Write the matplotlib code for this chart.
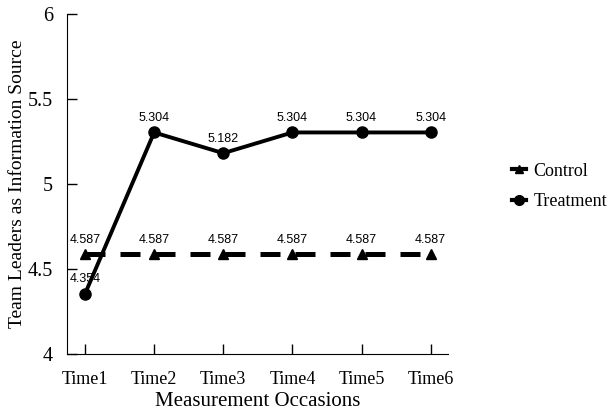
import matplotlib.pyplot as plt
from matplotlib.lines import Line2D

times = ["Time1", "Time2", "Time3", "Time4", "Time5", "Time6"]
control = [4.587, 4.587, 4.587, 4.587, 4.587, 4.587]
treatment = [4.354, 5.304, 5.182, 5.304, 5.304, 5.304]

x = list(range(1, len(times) + 1))

fig = plt.figure(figsize=(6.12, 4.17), dpi=100)
ax = fig.add_axes([0.1095, 0.151, 0.6225, 0.815])

ax.plot(x, control, color="black", linewidth=3.6, linestyle=(0, (4, 3)),
        marker="^", markersize=7, label="Control")
ax.plot(x, treatment, color="black", linewidth=2.8, marker="o",
        markersize=8, label="Treatment")

# value labels
for xi, v in zip(x, control):
    ax.text(xi, v + 0.05, "%.3f" % v, ha="center", va="bottom",
            fontsize=9, family="Liberation Sans")
for xi, v in zip(x, treatment):
    ax.text(xi, v + 0.05, "%.3f" % v, ha="center", va="bottom",
            fontsize=9, family="Liberation Sans")

ax.set_xlim(0.74, 6.25)
ax.set_ylim(4, 6)
ax.set_xticks(x)
ax.set_xticklabels(times)
ax.set_yticks([4, 4.5, 5, 5.5, 6])
ax.set_yticklabels(["4", "4.5", "5", "5.5", "6"])
ax.tick_params(direction="in", length=7, width=1)
ax.tick_params(axis="x", pad=12)
ax.tick_params(axis="y", pad=10)
for lbl in ax.get_xticklabels():
    lbl.set_family("Liberation Serif")
    lbl.set_fontsize(13)
for lbl in ax.get_yticklabels():
    lbl.set_family("Liberation Serif")
    lbl.set_fontsize(14.5)

ax.spines["top"].set_visible(False)
ax.spines["right"].set_visible(False)

ax.set_xlabel("Measurement Occasions", family="Liberation Serif", fontsize=15, labelpad=3)
ax.set_ylabel("Team Leaders as Information Source", family="Liberation Serif",
              fontsize=14, labelpad=1)

handles = [
    Line2D([], [], color="black", marker="^", markersize=6, linewidth=3),
    Line2D([], [], color="black", marker="o", markersize=7, linewidth=3),
]
fig.legend(handles, ["Control", "Treatment"], loc="center left",
           bbox_to_anchor=(0.81, 0.553), frameon=False, handlelength=0.8,
           handletextpad=0.4, labelspacing=0.75,
           prop={"family": "Liberation Serif", "size": 13})

fig.savefig("out.png", dpi=100)
